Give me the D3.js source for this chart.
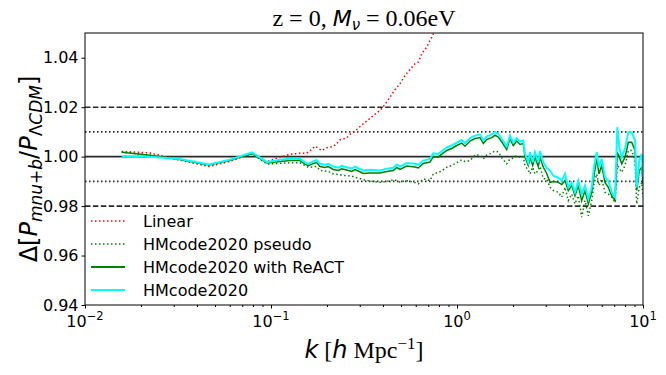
<!DOCTYPE html>
<html><head><meta charset="utf-8">
<script src="https://cdn.jsdelivr.net/npm/d3@7"></script>
<style>body{margin:0;background:#fff}</style>
</head><body>
<svg id="c" width="666" height="375" xmlns="http://www.w3.org/2000/svg"></svg>
<script>
// ---- data ----
const kLinear=[0.01575,0.02236,0.03242,0.04642,0.0602,0.07904,0.09517,0.1009,0.1118,0.1265,0.1432,0.1556,0.1655,0.1724,0.1796,0.1874,0.1993,0.2163,0.2255,0.2350,0.2553,0.2659,0.2829,0.2984,0.3135,0.3336,0.3548,0.3855,0.4103,0.4364,0.4642,0.4938,0.5252,0.5587,0.5946,0.6194,0.6460,0.6873,0.7157,0.7364,0.7712];
const linear=[1.0021,1.0015,0.9986,0.9960,0.9981,1.0013,0.9980,0.9987,0.9998,1.0009,1.0014,1.0014,1.0029,1.0042,1.0034,1.0025,1.0036,1.0041,1.0052,1.0068,1.0076,1.0090,1.0103,1.0119,1.0133,1.0149,1.0166,1.0187,1.0211,1.0241,1.0271,1.0295,1.0328,1.0352,1.0376,1.0382,1.0416,1.0443,1.0470,1.0486,1.0519];

const kHM=[0.01575,0.02236,0.03242,0.04642,0.0602,0.07904,0.09517,0.1118,0.1265,0.1432,0.1523,0.1587,0.1688,0.1761,0.1834,0.1951,0.2033,0.2163,0.2300,0.2399,0.2553,0.2716,0.2829,0.2947,0.3135,0.3407,0.3855,0.4188,0.4545,0.4741,0.4938,0.5364,0.5946,0.6194,0.6589,0.7157,0.7456,0.7934,0.8274,0.8805,0.9364,0.9963,1.060,1.104,1.175,1.250,1.330,1.385,1.444,1.537,1.601,1.667,1.739,1.850,1.927,2.007,2.094,2.181,2.272,2.320,2.417,2.469,2.553,2.627,2.736,2.794,2.911,3.037,3.162,3.294,3.504,3.655,3.807,3.966,4.137,4.309,4.489,4.682,4.878,5.081,5.300,5.453,5.638,5.800,5.998,6.248,6.509,6.789,7.072,7.276,7.459,7.684,8.004,8.337,8.696,9.058,9.250,9.552,9.840,10.0];
const hmPseudo=[1.0019,1.0006,0.9986,0.9964,0.9984,1.0011,0.9970,0.9973,0.9975,0.9975,0.9964,0.9957,0.9958,0.9960,0.9944,0.9942,0.9940,0.9930,0.9928,0.9925,0.9923,0.9921,0.9917,0.9913,0.9907,0.9901,0.9896,0.9900,0.9906,0.9903,0.9897,0.9903,0.9895,0.9890,0.9910,0.9903,0.9930,0.9936,0.9942,0.9957,0.9964,0.9976,0.9987,0.9980,0.9984,1.0007,1.0006,0.9991,1.0006,1.0015,1.0023,1.0019,0.9996,0.9971,0.9991,0.9994,1.0004,0.9998,1.0000,0.9964,0.9944,0.9930,0.9957,0.9930,0.9944,0.9960,0.9911,0.9910,0.9876,0.9863,0.9856,0.9836,0.9876,0.9822,0.9849,0.9809,0.9842,0.9755,0.9822,0.9761,0.9822,0.9890,0.9930,0.9883,0.9910,0.9856,0.9849,0.9836,0.9815,0.9971,0.9951,0.9937,0.9964,1.0025,1.0025,0.9984,0.9809,0.9876,0.9896,0.9836];
const hmReact=[1.0018,1.0006,0.9988,0.9966,0.9986,1.0013,0.9974,0.9980,0.9984,0.9984,0.9970,0.9963,0.9972,0.9976,0.9960,0.9956,0.9960,0.9948,0.9944,0.9951,0.9946,0.9940,0.9948,0.9942,0.9932,0.9934,0.9934,0.9940,0.9944,0.9956,0.9948,0.9962,0.9958,0.9954,0.9972,0.9978,1.0000,0.9998,1.0010,1.0025,1.0033,1.0045,1.0055,1.0042,1.0063,1.0073,1.0077,1.0053,1.0069,1.0077,1.0087,1.0079,1.0060,1.0029,1.0073,1.0045,1.0063,1.0049,1.0053,0.9998,0.9964,0.9996,0.9964,0.9998,0.9960,0.9998,0.9957,0.9932,0.9896,0.9899,0.9896,0.9887,0.9903,0.9863,0.9883,0.9842,0.9883,0.9822,0.9863,0.9809,0.9856,0.9923,0.9991,0.9930,0.9964,0.9896,0.9876,0.9842,0.9822,1.0018,0.9998,0.9971,0.9998,1.0058,1.0058,1.0025,0.9863,0.9944,0.9957,0.9890];
const hmcode=[1.0002,1.0000,0.9990,0.9968,0.9988,1.0017,0.9978,0.9987,0.9991,0.9991,0.9977,0.9971,0.9981,0.9987,0.9971,0.9967,0.9971,0.9960,0.9955,0.9963,0.9957,0.9952,0.9960,0.9953,0.9944,0.9947,0.9944,0.9951,0.9955,0.9968,0.9960,0.9974,0.9971,0.9967,0.9984,0.9991,1.0013,1.0011,1.0022,1.0037,1.0045,1.0057,1.0067,1.0054,1.0075,1.0085,1.0090,1.0065,1.0081,1.0090,1.0100,1.0092,1.0072,1.0041,1.0085,1.0057,1.0075,1.0061,1.0065,1.0013,0.9976,1.0018,0.9977,1.0018,0.9977,1.0023,0.9976,0.9954,0.9944,0.9923,0.9915,0.9903,0.9930,0.9876,0.9896,0.9856,0.9903,0.9849,0.9883,0.9829,0.9876,0.9957,1.0018,0.9957,0.9991,0.9917,0.9903,0.9856,0.9836,1.0119,1.0038,0.9998,1.0032,1.0099,1.0099,1.0065,0.9876,0.9984,1.0011,0.9917];

const yTicks=[0.94,0.96,0.98,1.00,1.02,1.04];
const xTickExps=["-2","-1","0","1"];
const refDashed=[1.02,0.98];
const refDotted=[1.01,0.99];
const refSolid=[1.00];
const legendLabels=["Linear","HMcode2020 pseudo","HMcode2020 with ReACT","HMcode2020"];

// ---- layout ----
const L=85,R=643,T=33,B=305;
const svg=d3.select("#c");
const x=d3.scaleLog().domain([0.01,10]).range([L,R]);
const y=d3.scaleLinear().domain([0.94,1.05]).range([B,T]);

svg.append("defs").append("clipPath").attr("id","clip")
  .append("rect").attr("x",L).attr("y",T).attr("width",R-L).attr("height",B-T);

const gp=svg.append("g").attr("clip-path","url(#clip)");
const refColor="#2b2b2b";
refDashed.forEach(v=>gp.append("line").attr("x1",L).attr("x2",R).attr("y1",y(v)).attr("y2",y(v))
  .attr("stroke",refColor).attr("stroke-width",1.6).attr("stroke-dasharray","5.5,2.4"));
refDotted.forEach(v=>gp.append("line").attr("x1",L).attr("x2",R).attr("y1",y(v)).attr("y2",y(v))
  .attr("stroke",refColor).attr("stroke-width",1.6).attr("stroke-dasharray","1.5,2.5"));
refSolid.forEach(v=>gp.append("line").attr("x1",L).attr("x2",R).attr("y1",y(v)).attr("y2",y(v))
  .attr("stroke",refColor).attr("stroke-width",1.6));

const line=d3.line().x(d=>x(d[0])).y(d=>y(d[1]));
const series=[
  {k:kLinear,v:linear,color:"red",w:1.5,dash:"1.5,2.5"},
  {k:kHM,v:hmPseudo,color:"green",w:1.5,dash:"1.5,2.5"},
  {k:kHM,v:hmReact,color:"green",w:1.5,dash:null},
  {k:kHM,v:hmcode,color:"cyan",w:2,dash:null}
];
series.forEach(s=>{
  gp.append("path").datum(s.k.map((k,i)=>[k,s.v[i]])).attr("d",line)
    .attr("fill","none").attr("stroke",s.color).attr("stroke-width",s.w)
    .attr("stroke-dasharray",s.dash);
});

// frame
svg.append("rect").attr("x",L).attr("y",T).attr("width",R-L).attr("height",B-T)
  .attr("fill","none").attr("stroke","#000").attr("stroke-width",1);

// y axis
const yAxis=d3.axisLeft(y).tickValues(yTicks).tickFormat(d3.format(".2f")).tickSize(3.5).tickPadding(3);
const gy=svg.append("g").attr("transform",`translate(${L},0)`).call(yAxis);
gy.select(".domain").remove();
gy.selectAll("text").attr("font-family","DejaVu Sans").attr("font-size",16).attr("fill","#000");

// x axis major/minor
const minor=[];
for(let e=-2;e<1;e++)for(let m=2;m<10;m++)minor.push(m*Math.pow(10,e));
const gxm=svg.append("g").attr("transform",`translate(0,${B})`)
  .call(d3.axisBottom(x).tickValues(minor).tickFormat("").tickSize(2));
gxm.select(".domain").remove();
const gx=svg.append("g").attr("transform",`translate(0,${B})`)
  .call(d3.axisBottom(x).tickValues(xTickExps.map(e=>Math.pow(10,+e))).tickFormat("").tickSize(3.5));
gx.select(".domain").remove();
xTickExps.forEach(e=>{
  const t=svg.append("text").attr("x",x(Math.pow(10,+e))).attr("y",B+22)
    .attr("text-anchor","middle").attr("font-family","DejaVu Sans").attr("font-size",16).attr("fill","#000");
  t.append("tspan").text("10");
  t.append("tspan").attr("dy",-7).attr("font-size",11.5).text(e.replace("-","\u2212"));
});

// title
const title=svg.append("text").attr("x",(L+R)/2).attr("y",26).attr("text-anchor","middle")
  .attr("font-size",24).attr("fill","#000");
title.append("tspan").attr("font-family","Liberation Serif").text("z = 0, ");
title.append("tspan").attr("font-family","DejaVu Sans").attr("font-style","italic").attr("font-size",22).text("M");
title.append("tspan").attr("font-family","DejaVu Sans").attr("font-style","italic").attr("font-size",15).attr("dy",4).text("\u03bd");
title.append("tspan").attr("font-family","Liberation Serif").attr("dy",-4).text(" = 0.06eV");

// x label
const xl=svg.append("text").attr("x",(L+R)/2).attr("y",358).attr("text-anchor","middle")
  .attr("font-size",24).attr("fill","#000");
xl.append("tspan").attr("font-family","DejaVu Sans").attr("font-style","italic").text("k");
xl.append("tspan").attr("font-family","Liberation Serif").text(" [");
xl.append("tspan").attr("font-family","DejaVu Sans").attr("font-style","italic").text("h");
xl.append("tspan").attr("font-family","Liberation Serif").text(" Mpc");
xl.append("tspan").attr("font-family","Liberation Serif").attr("font-size",17).attr("dy",-9).text("\u22121");
xl.append("tspan").attr("font-family","Liberation Serif").attr("dy",9).text("]");

// y label
const yl=svg.append("text").attr("transform","translate(37,169) rotate(-90)").attr("text-anchor","middle")
  .attr("font-family","DejaVu Sans").attr("font-size",24).attr("fill","#000");
yl.append("tspan").text("\u0394[");
yl.append("tspan").attr("font-style","italic").text("P");
yl.append("tspan").attr("font-style","italic").attr("font-size",17).attr("dy",5).text("mnu+b");
yl.append("tspan").attr("dy",-5).text("/");
yl.append("tspan").attr("font-style","italic").text("P");
yl.append("tspan").attr("font-size",17).attr("dy",5).text("\u039b");
yl.append("tspan").attr("font-style","italic").attr("font-size",17).text("CDM");
yl.append("tspan").attr("dy",-5).text("]");

// legend
const legY=[221,244,267,290];
legendLabels.forEach((lab,i)=>{
  const s=series[i];
  svg.append("line").attr("x1",91).attr("x2",125).attr("y1",legY[i]).attr("y2",legY[i])
    .attr("stroke",s.color).attr("stroke-width",s.dash?1.5:2.2).attr("stroke-dasharray",s.dash);
  svg.append("text").attr("x",143).attr("y",legY[i]+6).attr("font-family","DejaVu Sans")
    .attr("font-size",16).attr("fill","#000").text(lab);
});
</script>
</body></html>
